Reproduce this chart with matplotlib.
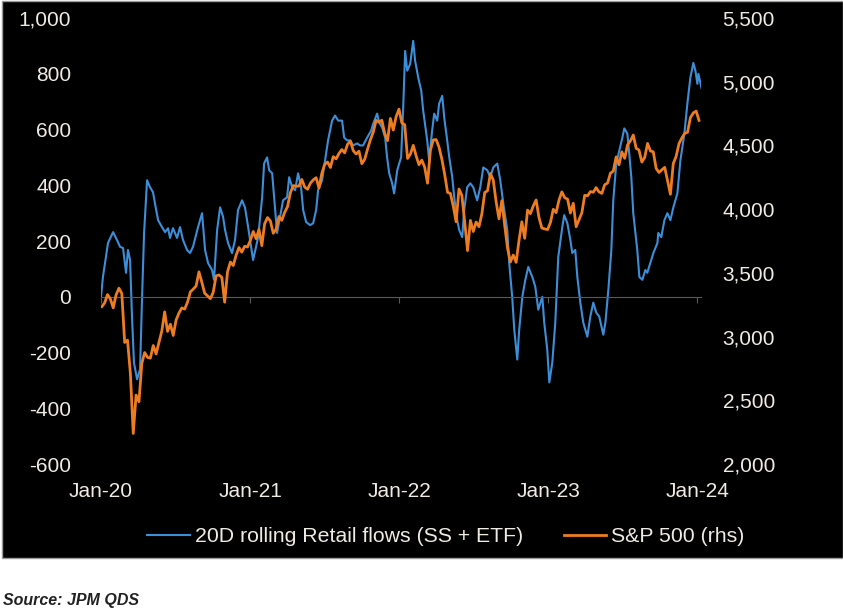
import numpy as np
import pandas as pd
import matplotlib
matplotlib.use("Agg")
import matplotlib.pyplot as plt
from matplotlib.patches import Rectangle
from matplotlib.ticker import FuncFormatter, MultipleLocator

# 20D rolling retail flows (SS + ETF) (decimal years)
flow_years = [
    2020.000, 2020.013, 2020.047, 2020.081, 2020.107, 2020.128, 2020.148, 2020.168,
    2020.181, 2020.195, 2020.208, 2020.221, 2020.242, 2020.262, 2020.275, 2020.289,
    2020.309, 2020.329, 2020.349, 2020.362, 2020.383, 2020.409, 2020.430, 2020.450,
    2020.463, 2020.483, 2020.510, 2020.530, 2020.550, 2020.577, 2020.597, 2020.617,
    2020.651, 2020.678, 2020.698, 2020.718, 2020.745, 2020.758, 2020.779, 2020.799,
    2020.819, 2020.832, 2020.852, 2020.879, 2020.899, 2020.919, 2020.946, 2020.966,
    2020.987, 2021.007, 2021.020, 2021.040, 2021.054, 2021.081, 2021.094, 2021.114,
    2021.128, 2021.148, 2021.168, 2021.181, 2021.201, 2021.221, 2021.248, 2021.262,
    2021.282, 2021.302, 2021.322, 2021.342, 2021.356, 2021.376, 2021.403, 2021.423,
    2021.443, 2021.456, 2021.483, 2021.503, 2021.523, 2021.550, 2021.570, 2021.591,
    2021.617, 2021.631, 2021.651, 2021.671, 2021.691, 2021.718, 2021.738, 2021.758,
    2021.785, 2021.812, 2021.826, 2021.852, 2021.866, 2021.886, 2021.906, 2021.919,
    2021.933, 2021.953, 2021.966, 2021.987, 2022.000, 2022.013, 2022.027, 2022.040,
    2022.054, 2022.074, 2022.094, 2022.107, 2022.128, 2022.148, 2022.161, 2022.188,
    2022.201, 2022.221, 2022.235, 2022.255, 2022.268, 2022.289, 2022.302, 2022.322,
    2022.336, 2022.356, 2022.369, 2022.389, 2022.403, 2022.423, 2022.436, 2022.456,
    2022.477, 2022.497, 2022.523, 2022.544, 2022.564, 2022.591, 2022.611, 2022.631,
    2022.658, 2022.678, 2022.698, 2022.725, 2022.738, 2022.758, 2022.772, 2022.792,
    2022.805, 2022.826, 2022.846, 2022.866, 2022.893, 2022.913, 2022.933, 2022.960,
    2022.973, 2022.993, 2023.007, 2023.027, 2023.047, 2023.067, 2023.094, 2023.107,
    2023.128, 2023.148, 2023.161, 2023.181, 2023.195, 2023.215, 2023.235, 2023.262,
    2023.282, 2023.302, 2023.322, 2023.342, 2023.369, 2023.383, 2023.403, 2023.423,
    2023.436, 2023.456, 2023.477, 2023.497, 2023.510, 2023.530, 2023.537, 2023.557,
    2023.570, 2023.597, 2023.611, 2023.631, 2023.651, 2023.664, 2023.691, 2023.705,
    2023.732, 2023.738, 2023.758, 2023.779, 2023.799, 2023.819, 2023.839, 2023.866,
    2023.886, 2023.913, 2023.933, 2023.953, 2023.973, 2023.987, 2024.000, 2024.007,
    2024.027,
]
flow_vals = [
    0, 71, 193, 232, 204, 179, 175, 86,
    168, 132, -71, -236, -296, -260, -11, 229,
    418, 393, 375, 335, 275, 250, 232, 246,
    211, 246, 211, 250, 204, 168, 157, 179,
    250, 300, 168, 121, 96, 61, 240, 321,
    286, 240, 193, 157, 204, 311, 346, 320,
    250, 180, 132, 179, 214, 357, 478, 500,
    454, 443, 311, 229, 286, 346, 357, 429,
    393, 382, 443, 393, 311, 268, 257, 264,
    311, 382, 418, 489, 561, 632, 650, 632,
    632, 571, 561, 561, 543, 550, 543, 543,
    571, 596, 621, 657, 625, 607, 571, 500,
    443, 407, 371, 454, 478, 500, 679, 882,
    811, 836, 918, 846, 786, 739, 668, 561,
    489, 596, 657, 632, 693, 721, 643, 561,
    500, 429, 357, 275, 239, 214, 311, 393,
    407, 393, 346, 393, 464, 454, 429, 464,
    478, 418, 336, 239, 121, 0, -118, -225,
    -118, 0, 61, 107, 71, 36, -46, 0,
    -93, -189, -307, -236, -93, 143, 250, 293,
    264, 204, 157, 168, 71, -21, -93, -143,
    -71, -21, -57, -71, -136, -93, 25, 168,
    346, 478, 525, 571, 604, 586, 550, 429,
    300, 168, 71, 61, 96, 86, 132, 157,
    193, 229, 214, 275, 300, 275, 321, 371,
    489, 586, 693, 786, 839, 811, 764, 800,
    750,
]

# S&P 500 weekly closes (rhs)
spx_2020 = [3235, 3265, 3330, 3295, 3226, 3328, 3380, 3338, 2954, 2972, 2711, 2240, 2541,
            2489, 2790, 2875, 2837, 2831, 2930, 2864, 2955, 3044, 3194, 3041, 3097, 3009,
            3130, 3185, 3225, 3216, 3271, 3351, 3373, 3397, 3508, 3427, 3341, 3319, 3298,
            3348, 3477, 3484, 3465, 3270, 3509, 3585, 3558, 3638, 3699, 3663, 3709, 3703,
            3756]
spx_2021 = [3825, 3768, 3841, 3714, 3887, 3934, 3907, 3811, 3842, 3943, 3913, 3975, 4020,
            4129, 4185, 4180, 4181, 4233, 4174, 4156, 4204, 4230, 4247, 4166, 4281, 4352,
            4370, 4327, 4412, 4395, 4437, 4468, 4442, 4509, 4535, 4459, 4433, 4455, 4357,
            4391, 4471, 4545, 4605, 4697, 4683, 4698, 4595, 4538, 4712, 4621, 4726, 4785]
spx_2022 = [4677, 4663, 4398, 4432, 4501, 4419, 4349, 4385, 4329, 4204, 4463, 4543, 4546,
            4488, 4393, 4272, 4132, 4123, 4024, 3901, 4158, 4109, 3901, 3675, 3912, 3825,
            3899, 3863, 3962, 4130, 4145, 4280, 4228, 4058, 3924, 4067, 3873, 3693, 3586,
            3640, 3583, 3753, 3901, 3771, 3993, 3965, 4026, 4072, 3934, 3852, 3845, 3840]
spx_2023 = [3895, 3999, 3973, 4071, 4136, 4090, 4079, 3970, 4046, 3862, 3917, 3971, 4109,
            4105, 4138, 4133, 4169, 4136, 4124, 4192, 4205, 4282, 4299, 4410, 4348, 4450,
            4399, 4505, 4536, 4582, 4478, 4464, 4370, 4406, 4516, 4457, 4450, 4320, 4288,
            4309, 4328, 4224, 4117, 4358, 4415, 4514, 4559, 4595, 4604, 4719, 4755, 4770]
spx_2024 = [4697]

year_ticks = ["2020-01-01", "2021-01-01", "2022-01-01", "2023-01-01", "2024-01-01"]
year_labels = ["Jan-20", "Jan-21", "Jan-22", "Jan-23", "Jan-24"]

blue = "#3d8ed8"
orange = "#ee7d22"
txt = "#efeae2"
grey = "#5a5a5a"

plt.rcParams["font.family"] = ["Liberation Sans", "DejaVu Sans"]

spx_vals = spx_2020 + spx_2021 + spx_2022 + spx_2023 + spx_2024
spx_dates = pd.date_range("2020-01-03", periods=len(spx_vals), freq="W-FRI")
fy = np.array(flow_years)
flow_dates = pd.Timestamp("2020-01-01") + pd.to_timedelta((fy - 2020) * 365.25, unit="D")

fig = plt.figure(figsize=(8.43, 6.13), dpi=100, facecolor="white")
# black panel behind the chart
fig.patches.append(Rectangle((0.002, 0.09), 0.998, 0.908, transform=fig.transFigure,
                             facecolor="black", edgecolor="#9a9a9a", lw=1, zorder=-5))

ax = fig.add_axes([0.1198, 0.243, 0.7118, 0.7276])
ax.set_facecolor("none")
ax.plot(flow_dates, flow_vals, color=blue, lw=1.5, label="20D rolling Retail flows (SS + ETF)")
ax.set_ylim(-600, 1000)
ax.yaxis.set_major_locator(MultipleLocator(200))
ax.yaxis.set_major_formatter(FuncFormatter(lambda v, p: f"{v:,.0f}"))
ax.tick_params(axis="y", length=0, labelcolor=txt, labelsize=15, pad=21.5)

ax.set_xlim(pd.Timestamp("2020-01-01"), pd.Timestamp("2024-01-10"))
ax.set_xticks(pd.to_datetime(year_ticks))
ax.spines["bottom"].set_position(("data", 0))
ax.spines["bottom"].set_color(grey)
for s in ("top", "right", "left"):
    ax.spines[s].set_visible(False)
ax.tick_params(axis="x", direction="out", length=4, color=grey, labelbottom=False)

sec = ax.secondary_xaxis("bottom")
sec.set_xticks(pd.to_datetime(year_ticks))
sec.set_xticklabels(year_labels)
sec.spines["bottom"].set_visible(False)
sec.tick_params(length=0, labelcolor=txt, labelsize=15, pad=13)

ax2 = ax.twinx()
ax2.plot(spx_dates, spx_vals, color=orange, lw=2.0, label="S&P 500 (rhs)")
ax2.set_ylim(2000, 5500)
ax2.yaxis.set_major_locator(MultipleLocator(500))
ax2.yaxis.set_major_formatter(FuncFormatter(lambda v, p: f"{v:,.0f}"))
ax2.tick_params(axis="y", length=0, labelcolor=txt, labelsize=15, pad=15.5)
for s in ax2.spines.values():
    s.set_visible(False)

h1, l1 = ax.get_legend_handles_labels()
h2, l2 = ax2.get_legend_handles_labels()
leg = fig.legend(h1 + h2, l1 + l2, loc="center", bbox_to_anchor=(0.529, 0.124), ncol=2,
                 frameon=False, fontsize=15.3, handlelength=2.0, columnspacing=1.9,
                 handletextpad=0.25)
for t in leg.get_texts():
    t.set_color(txt)

fig.text(0.004, 0.021, "Source: JPM QDS", fontsize=11.5, fontweight="bold", fontstyle="italic",
         color="#222222", va="center", ha="left")

fig.savefig("out.png", dpi=100, facecolor="white")
